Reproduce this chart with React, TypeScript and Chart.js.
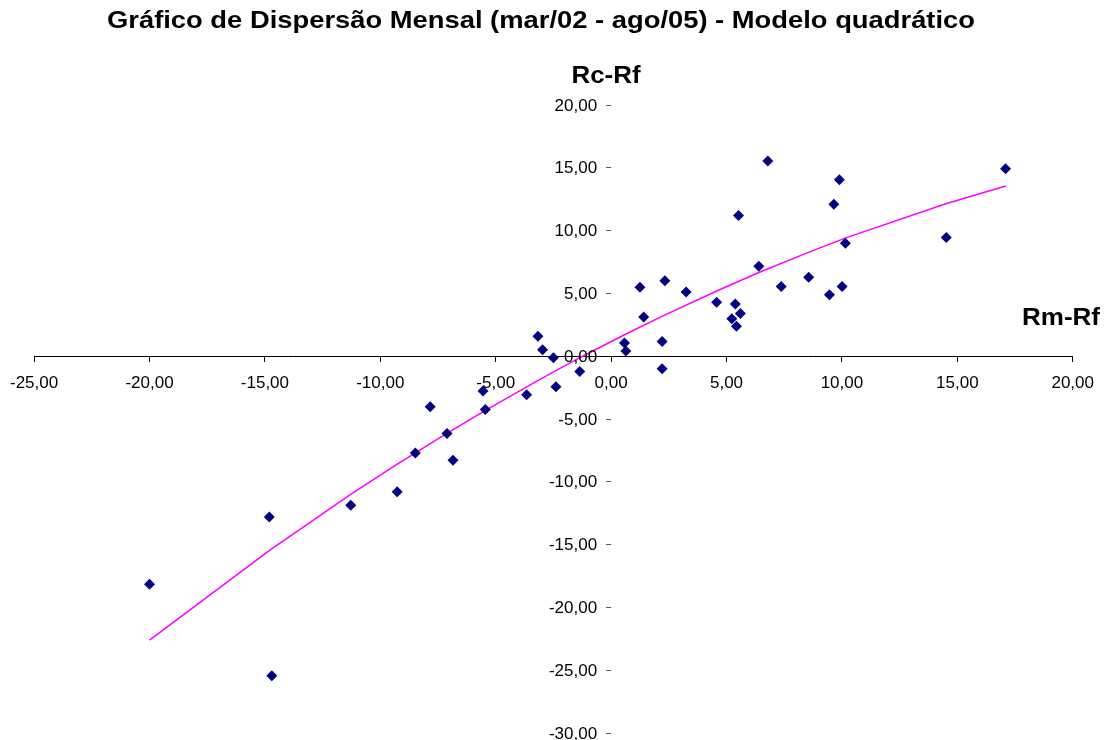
import React, { useEffect, useRef } from "react";
import { Chart, registerables } from "chart.js";

Chart.register(...registerables);

const chartTitle = "Gráfico de Dispersão Mensal (mar/02 - ago/05) - Modelo quadrático";
const yAxisTitle = "Rc-Rf";
const xAxisTitle = "Rm-Rf";

// Monthly excess returns: market (Rm-Rf) and stock (Rc-Rf)
const rmRf = [
  -20.0, -14.81, -14.7, -11.28, -9.27, -8.48, -7.84, -7.11, -6.85, -5.55,
  -5.45, -3.66, -2.97, -3.17, -2.5, -2.39, -1.36, 0.58, 0.64, 1.25,
  1.41, 2.21, 2.21, 2.33, 3.25, 4.57, 5.38, 5.23, 5.43, 5.6,
  5.52, 6.79, 6.4, 7.37, 8.56, 9.46, 10.01, 9.65, 9.89, 10.15,
  14.52, 17.09,
];
const rcRf = [
  -18.15, -12.8, -25.45, -11.87, -10.8, -7.7, -4.03, -6.15, -8.28, -2.78,
  -4.24, -3.07, 0.52, 1.58, -0.12, -2.43, -1.21, 1.05, 0.41, 5.49,
  3.12, 1.18, -1.0, 6.0, 5.12, 4.29, 4.16, 2.99, 2.38, 3.39,
  11.2, 15.54, 7.16, 5.54, 6.29, 4.9, 5.54, 12.1, 14.05, 9.0,
  9.45, 14.93,
];

// Quadratic model line
const trendX = [-20.0, -14.8, -11.3, -9.3, -7.1, -5.5, -3.2, -1.4, 0.6, 2.2, 4.6, 6.4, 8.6, 10.2, 14.5, 17.1];
const trendY = [-22.6, -15.46, -11.03, -8.63, -6.12, -4.37, -1.96, -0.16, 1.73, 3.17, 5.21, 6.66, 8.31, 9.44, 12.14, 13.55];

const xTicks = [-25, -20, -15, -10, -5, 0, 5, 10, 15, 20];
const yTicks = [-30, -25, -20, -15, -10, -5, 0, 5, 10, 15, 20];

const fmt = (v: number) => v.toFixed(2).replace(".", ",");
const FONT = "'Liberation Sans', Arial, sans-serif";
const SHIFT = 4; // canvas is offset 4px to the left of the page

function fittedText(ctx: CanvasRenderingContext2D, text: string, cx: number, cy: number, font: string, width: number) {
  ctx.save();
  ctx.font = font;
  const w = ctx.measureText(text).width;
  ctx.translate(cx + SHIFT, cy);
  ctx.scale(width / w, 1);
  ctx.textAlign = "center";
  ctx.textBaseline = "middle";
  ctx.fillText(text, 0, 0);
  ctx.restore();
}

export default function App() {
  const ref = useRef<HTMLCanvasElement>(null);

  useEffect(() => {
    if (!ref.current) return;
    const textPlugin = {
      id: "texts",
      afterDraw(chart: any) {
        const ctx = chart.ctx;
        const xs = chart.scales.x;
        const ys = chart.scales.y;
        ctx.save();
        ctx.fillStyle = "#000";
        // y tick labels, left of the tick marks at x = 0
        ctx.font = `17px ${FONT}`;
        ctx.textAlign = "right";
        ctx.textBaseline = "middle";
        const x0 = xs.getPixelForValue(0);
        yTicks.forEach((v) => {
          ctx.fillText(fmt(v), x0 - 14, ys.getPixelForValue(v) + 1);
        });
        fittedText(ctx, chartTitle, 541, 21, `bold 24px ${FONT}`, 868);
        fittedText(ctx, yAxisTitle, 606, 76.5, `bold 23px ${FONT}`, 69);
        fittedText(ctx, xAxisTitle, 1061, 318.5, `bold 23px ${FONT}`, 78);
        ctx.restore();
      },
    };

    const chart = new Chart(ref.current, {
      type: "scatter",
      data: {
        datasets: [
          {
            label: "Modelo quadrático",
            type: "line",
            data: trendX.map((x, i) => ({ x, y: trendY[i] })),
            borderColor: "#FF00FF",
            borderWidth: 1.5,
            pointRadius: 0,
            fill: false,
            tension: 0,
            order: 2,
          },
          {
            label: "Rc-Rf",
            data: rmRf.map((x, i) => ({ x, y: rcRf[i] })),
            backgroundColor: "#000080",
            borderColor: "#000080",
            pointStyle: "rectRot",
            pointRadius: 5.5,
            borderWidth: 0,
            order: 1,
          },
        ],
      },
      options: {
        responsive: false,
        animation: false,
        layout: { padding: { left: 34, right: 34.5, top: 105, bottom: 7 } },
        plugins: {
          legend: { display: false },
          title: { display: false },
          tooltip: { enabled: false },
        },
        scales: {
          x: {
            type: "linear",
            position: { y: 0 } as any,
            min: -25,
            max: 20,
            afterBuildTicks: (s: any) => {
              s.ticks = xTicks.map((v) => ({ value: v }));
            },
            grid: {
              drawOnChartArea: false,
              drawTicks: true,
              tickLength: 5,
              color: "#000",
            },
            border: { display: true, color: "#000", width: 1 },
            ticks: {
              autoSkip: false,
              maxRotation: 0,
              padding: 14,
              color: "#000",
              font: { family: FONT, size: 17, lineHeight: 1 },
              callback: (v: any) => fmt(Number(v)),
            },
          },
          y: {
            type: "linear",
            position: { x: 0 } as any,
            min: -30,
            max: 20,
            afterBuildTicks: (s: any) => {
              s.ticks = yTicks.map((v) => ({ value: v }));
            },
            grid: {
              drawOnChartArea: false,
              drawTicks: true,
              tickLength: 5,
              color: "#555",
            },
            border: { display: false },
            ticks: { display: false },
          },
        },
      },
      plugins: [textPlugin],
    } as any);
    return () => chart.destroy();
  }, []);

  return (
    <div style={{ position: "absolute", left: -SHIFT, top: 0, width: 1108 + SHIFT, height: 740, background: "#fff" }}>
      <canvas ref={ref} width={1108 + SHIFT} height={740} style={{ display: "block" }} />
    </div>
  );
}
